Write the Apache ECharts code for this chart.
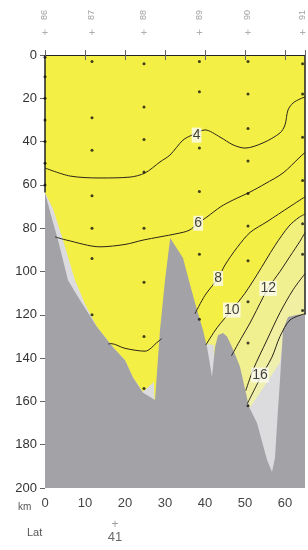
<!DOCTYPE html>
<html><head><meta charset="utf-8">
<script src="https://cdn.jsdelivr.net/npm/echarts@6/dist/echarts.min.js"></script>
<style>html,body{margin:0;padding:0;background:#fff}#c{width:308px;height:550px}</style>
</head><body><div id="c"></div>
<script>
// ---- data (km along section, depth m) ----
const X_TICKS = [0, 10, 20, 30, 40, 50, 60];
const X_MAX = 65;
const Y_TICKS = [0, 20, 40, 60, 80, 100, 120, 140, 160, 180, 200];
const STATIONS = ['86', '87', '88', '89', '90', '91'];
const STATION_KM = [0, 11.75, 24.75, 38.6, 50.75, 64.4];
const STATION_DEPTHS = [
  [1, 10, 20, 30, 40, 50, 60],
  [3, 29, 44, 65, 80, 94, 120],
  [4, 24, 39, 54, 80, 105, 130, 154],
  [3, 17, 43, 63, 92, 122],
  [3, 18, 34, 49, 64, 79, 95, 114, 133, 162],
  [4, 18, 38, 58, 78, 92, 118]
];
const BOTTOM = [[0,63.5],[1.5,74],[3.25,85.5],[5.75,104],[8,111],[10.75,119],[13,125.6],[17,135],[20,141],[22,149],[24.5,156],[27.5,159.4],[28.75,127],[30,104],[31.3,84.5],[32.5,88],[34.5,93.8],[36.25,106],[38,117.8],[39.5,127],[40.5,134.9],[41.25,143],[41.75,148.7],[42.5,135],[43.25,129.5],[44.5,128.4],[45.5,130],[46.75,134.9],[48.75,144],[51,162.5],[53,170],[55.5,187],[56.75,192.6],[57.5,186],[58.2,165],[58.75,150],[59.5,127],[60.75,121],[63,120],[65,120]];
const DATA_LIMIT = [[0,63.5],[2,71],[4.5,85.5],[7.5,104],[10,115],[12,122],[13,125.6],[17,135],[20,141],[22,149],[24.5,155.5],[27.2,151],[27.6,170],[40.3,170],[40.5,133.5],[42.2,134],[42.6,170],[50.6,170],[51.2,163],[58.75,142],[59.3,134],[59.6,170],[65,170]];
const C4 = [[0,52.2],[6.25,55.9],[13.75,56.8],[21.25,56.4],[25,54.5],[28.75,49.4],[31.25,46.2],[34.5,39.3],[36.75,37],[40,34.6],[43.75,37.9],[47,41.5],[50,43],[54.5,40.6],[58.75,36],[60,32.3],[60.75,25.4],[62,22.2],[63.75,20.3],[65,19.4]];
const C6 = [[2.5,84],[5.4,85.5],[13.75,88.6],[20,87.5],[24.5,85.5],[28.75,84],[33,82.5],[36,81],[38.3,77.7],[40.5,74.8],[44,70],[47,67],[51.25,63.3],[55,59.5],[59.5,54.5],[63.75,47.1],[65,45]];
const C8_WEST = [[15.8,133.5],[16.5,133.3],[20,135.5],[25,136.8],[28.25,132.4],[29.2,131]];
const C8_EAST = [[37.5,119.5],[40,111],[43.3,103],[45,97],[48,89],[51.25,82],[55.5,77],[61.25,70],[65,65.5]];
const C10 = [[40.2,134],[43,126],[46.7,117.8],[50,110],[53,101.5],[57.5,88],[61,79],[63.5,75],[65,73.5]];
const C12 = [[46.6,139],[49,131],[51.25,123.8],[54.5,112],[55.8,107.6],[58.75,100],[61.25,93],[63.75,86],[65,82]];
const C14 = [[50.2,155],[52,145.5],[55.5,131.6],[58.75,119],[62,108.5],[65,101]];
const C16 = [[50.6,161],[53.75,149.5],[56.75,139.5],[58.75,130],[61.25,122.4],[65,119.5]];
const CONTOUR_LABELS = ['4', '6', '8', '10', '12', '16'];
const CONTOUR_LABEL_AT = [[37.9,37],[38.3,77.7],[43.3,103.2],[46.7,117.8],[55.8,107.8],[53.75,147.8]];
const LAT_KM = [17.5];
const LAT_LABELS = ['41'];

// ---- styles ----
const YELLOW = '#f4ef45', GRAY_DARK = '#a3a2a7', GRAY_LIGHT = '#dcdcdf';
const BANDS = [[C10, '#f2f07c'], [C12, '#f1f090'], [C14, '#f0efa2'], [C16, '#efefb0']];
const FONT = 'Liberation Sans, Arial, sans-serif';

const series = [];
BANDS.forEach(([c, col]) => series.push({
  type: 'line', data: c, smooth: 0.3, symbol: 'none', silent: true,
  lineStyle: { width: 0 }, areaStyle: { color: col, opacity: 1, origin: 'end' }
}));
[C4, C6, C8_WEST, C8_EAST, C10, C12, C14, C16].forEach(c => series.push({
  type: 'line', data: c, smooth: 0.3, symbol: 'none', silent: true,
  lineStyle: { width: 1, color: '#2a2418' }
}));
series.push({
  type: 'line', data: DATA_LIMIT, symbol: 'none', silent: true,
  lineStyle: { width: 0 }, areaStyle: { color: GRAY_LIGHT, opacity: 1, origin: 'end' }
});
series.push({
  type: 'line', data: BOTTOM, symbol: 'none', silent: true,
  lineStyle: { width: 0 }, areaStyle: { color: GRAY_DARK, opacity: 1, origin: 'end' }
});
// section side boundaries (surface to bottom)
series.push({ type: 'line', data: [[0, 0], [0, BOTTOM[0][1]]], symbol: 'none', clip: false, lineStyle: { width: 1.5, color: '#222' } });
series.push({ type: 'line', data: [[X_MAX, 0], [X_MAX, BOTTOM[BOTTOM.length - 1][1]]], symbol: 'none', clip: false, lineStyle: { width: 1.5, color: '#222' } });
// sample dots
const dots = [];
STATION_KM.forEach((km, i) => STATION_DEPTHS[i].forEach(d => dots.push([km, d])));
series.push({ type: 'scatter', data: dots, symbolSize: 3, itemStyle: { color: '#111' }, clip: false, z: 5 });
// contour labels
series.push({
  type: 'scatter', symbolSize: 0, z: 6,
  data: CONTOUR_LABEL_AT.map((p, i) => ({ value: p, name: CONTOUR_LABELS[i] })),
  label: { show: true, position: 'inside', formatter: p => p.name, color: '#111', fontSize: 14,
    fontFamily: FONT, backgroundColor: '#fbfbf4', padding: [1, 1, 0, 1] }
});
// station markers above the section
series.push({
  type: 'scatter', symbolSize: 0, clip: false,
  data: STATION_KM.map(km => [km, -10.2]),
  label: { show: true, position: 'inside', formatter: '+', color: '#999', fontSize: 11, fontFamily: FONT }
});
series.push({
  type: 'scatter', symbolSize: 0, clip: false,
  data: STATION_KM.map((km, i) => ({ value: [km, -18.5], name: STATIONS[i] })),
  label: { show: true, position: 'inside', rotate: 90, formatter: p => p.name, color: '#888', fontSize: 9, fontFamily: FONT }
});
// latitude marker
series.push({
  type: 'scatter', symbolSize: 0, clip: false,
  data: LAT_KM.map(km => [km, 217]),
  label: { show: true, position: 'inside', formatter: '+', color: '#888', fontSize: 12, fontFamily: FONT }
});
series.push({
  type: 'scatter', symbolSize: 0, clip: false,
  data: LAT_KM.map((km, i) => ({ value: [km, 222.8], name: LAT_LABELS[i] })),
  label: { show: true, position: 'inside', formatter: p => p.name, color: '#444', fontSize: 13, fontFamily: FONT }
});

const xLabel = v => (X_TICKS.indexOf(v) >= 0 ? String(v) : '');
const chart = echarts.init(document.getElementById('c'), null, { renderer: 'canvas' });
chart.setOption({
  animation: false,
  backgroundColor: '#fff',
  grid: { left: 45, right: 2, top: 55, bottom: 62, show: true, backgroundColor: YELLOW, borderWidth: 0 },
  xAxis: [
    { type: 'value', position: 'bottom', min: 0, max: X_MAX, interval: 10, z: 5,
      axisLine: { show: true, lineStyle: { color: '#777', width: 1 } },
      axisTick: { show: true, length: 5, lineStyle: { color: '#666' } },
      axisLabel: { formatter: xLabel, color: '#444', fontSize: 13, fontFamily: FONT, margin: 9 },
      splitLine: { show: false } },
    { type: 'value', position: 'top', min: 0, max: X_MAX, interval: 10, z: 5,
      axisLine: { show: true, lineStyle: { color: '#222', width: 1.2 } },
      axisTick: { show: true, length: 5, lineStyle: { color: '#666' } },
      axisLabel: { show: false }, splitLine: { show: false } }
  ],
  yAxis: { type: 'value', inverse: true, min: Y_TICKS[0], max: Y_TICKS[Y_TICKS.length - 1], interval: 20,
    axisLine: { show: false },
    axisTick: { show: true, length: 5, lineStyle: { color: '#666' } },
    axisLabel: { color: '#333', fontSize: 13, fontFamily: FONT, margin: 8 },
    splitLine: { show: false } },
  graphic: [
    { type: 'text', left: 18, top: 502, style: { text: 'km', fontSize: 10, fill: '#555', fontFamily: FONT } },
    { type: 'text', left: 27, top: 527, style: { text: 'Lat', fontSize: 11, fill: '#555', fontFamily: FONT } }
  ],
  series: series
});
</script></body></html>
